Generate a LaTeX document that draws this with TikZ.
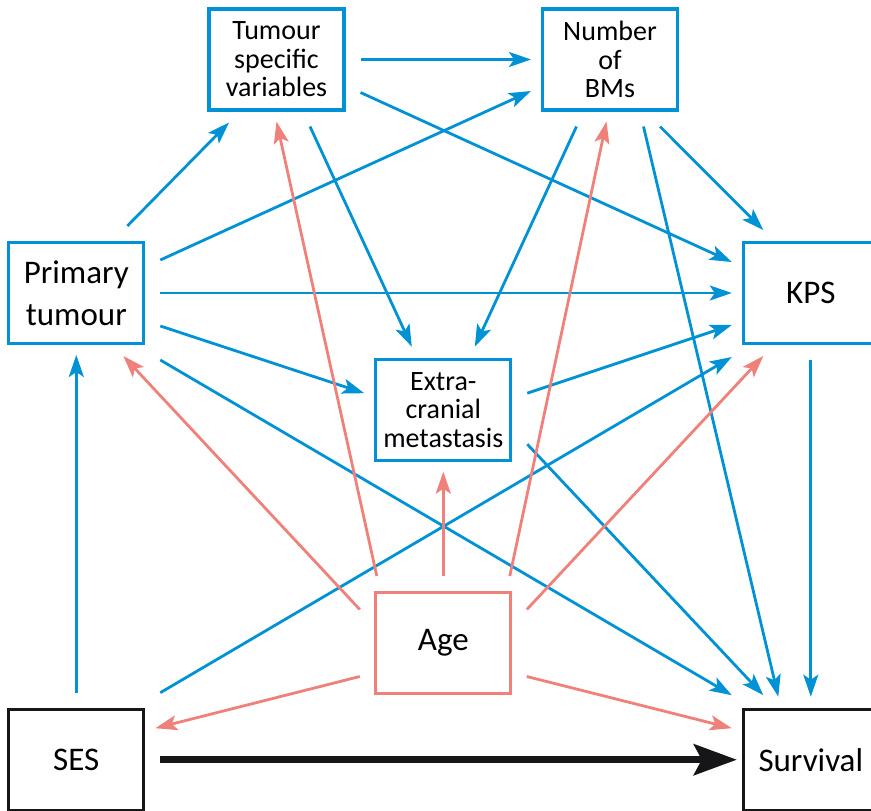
\documentclass[tikz,border=0pt]{standalone}
\usepackage{fontspec}
\setmainfont{Carlito}
\usetikzlibrary{arrows.meta,calc}
\definecolor{figB}{RGB}{0,146,212}
\definecolor{figR}{RGB}{240,128,122}
\definecolor{figK}{RGB}{22,22,24}

\begin{document}
\begin{tikzpicture}[x=1pt,y=-1pt,
  box/.style={draw,line width=3.2pt,minimum width=135pt,minimum height=101pt,inner sep=0pt,align=center},
  big/.style={font=\fontsize{33}{42}\selectfont},
  small/.style={font=\fontsize{28}{28.5}\selectfont},
  bl/.style={figB,line width=2.8pt,-{Stealth[length=22pt,width=15pt,inset=5pt]}},
  rd/.style={figR,line width=2.8pt,-{Stealth[length=22pt,width=15pt,inset=5pt]}},
  bk/.style={figK,line width=6.5pt,-{Stealth[length=43pt,width=31pt,inset=8pt]}}]
\useasboundingbox (0,0) rectangle (871,811);
% the variables
\node[box,small,figB,text=black] (tsv) at (276.5,59.5) {Tumour\\specific\\variables};
\node[box,small,figB,text=black] (nbm) at (610,59.5) {Number\\of\\BMs};
\node[box,big,figB,text=black] (prim) at (76.3,293) {Primary\\tumour};
\node[box,big,figB,text=black] (kps) at (810.8,293) {KPS};
\node[box,small,figB,text=black] (ecm) at (443.3,409.7) {Extra-\\cranial\\metastasis};
\node[box,big,figR,text=black] (age) at (443.3,643) {Age};
\node[box,big,figK,text=black] (ses) at (76.3,759.7) {SES};
\node[box,big,figK,text=black] (surv) at (810.8,759.7) {Survival};
% blue paths
\draw[bl] ($(tsv)+(84,0)$) -- ($(nbm)+(-79,0)$);
\draw[bl] ($(tsv)+(84,33)$) -- ($(kps)+(-79,-31)$);
\draw[bl] ($(tsv)+(33.5,67)$) -- ($(ecm)+(-31.5,-63)$);
\draw[bl] ($(prim)+(51,-67)$) -- ($(tsv)+(-47.5,63)$);
\draw[bl] ($(prim)+(84,-33)$) -- ($(nbm)+(-79,31.5)$);
\draw[bl] ($(prim)+(84,0)$) -- ($(kps)+(-79,0)$);
\draw[bl] ($(prim)+(84,33)$) -- ($(ecm)+(-79,-16.5)$);
\draw[bl] ($(prim)+(84,67)$) -- ($(surv)+(-79,-64.5)$);
\draw[bl] ($(nbm)+(-33.5,67)$) -- ($(ecm)+(31.5,-63)$);
\draw[bl] ($(nbm)+(33.5,67)$) -- ($(surv)+(-32.5,-63)$);
\draw[bl] ($(nbm)+(50,67)$) -- ($(kps)+(-47.5,-63)$);
\draw[bl] ($(ecm)+(84,-16.5)$) -- ($(kps)+(-79,32)$);
\draw[bl] ($(ecm)+(84,34.5)$) -- ($(surv)+(-47.5,-64.5)$);
\draw[bl] ($(kps)+(0,67)$) -- ($(surv)+(0,-63)$);
\draw[bl] ($(ses)+(0,-67)$) -- ($(prim)+(0,62)$);
\draw[bl] ($(ses)+(84,-67)$) -- ($(kps)+(-79,64)$);
% red paths from age
\draw[rd] ($(age)+(-66.5,-67)$) -- ($(tsv)+(0,62)$);
\draw[rd] ($(age)+(-83.5,-33.5)$) -- ($(prim)+(47,63)$);
\draw[rd] ($(age)+(0,-67)$) -- ($(ecm)+(0,62)$);
\draw[rd] ($(age)+(66.5,-67)$) -- ($(nbm)+(-3.5,62)$);
\draw[rd] ($(age)+(83.5,-33.5)$) -- ($(kps)+(-47.5,63)$);
\draw[rd] ($(age)+(-83.5,33.5)$) -- ($(ses)+(79,-31.5)$);
\draw[rd] ($(age)+(83.5,33.5)$) -- ($(surv)+(-79,-31.5)$);
% main effect
\draw[bk] ($(ses)+(84,0)$) -- ($(surv)+(-74,0)$);
\end{tikzpicture}
\end{document}
